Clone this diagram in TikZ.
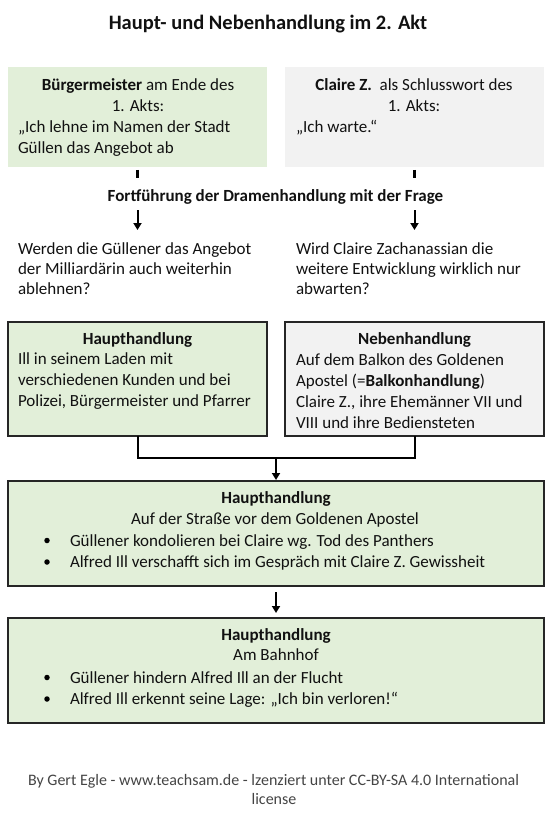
\documentclass[tikz,border=0pt]{standalone}
\usepackage{fontspec}
\setmainfont{Carlito}
\usetikzlibrary{arrows.meta}
\definecolor{boxgreen}{HTML}{E2EFD9}
\definecolor{boxgray}{HTML}{F2F2F2}
\definecolor{txt}{HTML}{111111}
\definecolor{foot}{HTML}{444444}
\tikzset{
  every node/.style={inner sep=0pt, outer sep=0pt, text=txt},
  body/.style={font=\fontsize{17}{21}\selectfont, align=left, anchor=base west},
  bodyc/.style={font=\fontsize{17}{21}\selectfont, anchor=base},
  boldc/.style={font=\fontsize{17}{21}\selectfont\bfseries, anchor=base},
  greenbox/.style={draw=none, fill=boxgreen, minimum width=259pt, minimum height=100pt},
  graybox/.style={draw=none, fill=boxgray, minimum width=259pt, minimum height=100pt},
  framebox/.style={draw=black!85, line width=1.4pt},
  tickline/.style={line width=2.6pt, black},
  arr/.style={line width=2pt, black, -{Triangle[length=7pt,width=8pt]}},
  conn/.style={line width=2pt, black},
  bul/.style={circle, fill=black, minimum size=5.5pt},
}
\begin{document}
\begin{tikzpicture}[x=1pt,y=-1pt]
\useasboundingbox (0,0) rectangle (550,821);
% title
\node[anchor=base, font=\fontsize{20.5}{24}\selectfont\bfseries] (title) at (268,30) {Haupt- und Nebenhandlung im 2. Akt};
% top boxes
\node[greenbox] (b1) at (137.5,117) {};
\node[graybox] (b2) at (414.5,117) {};
\node[bodyc] (b1l1) at (138,91) {\textbf{Bürgermeister} am Ende des};
\node[bodyc] (b1l2) at (138,112) {1. Akts:};
\node[body] (b1l3) at (18,154) {„Ich lehne im Namen der Stadt\\Güllen das Angebot ab};
\node[bodyc] (b2l1) at (414,91) {\textbf{Claire Z.}\ \ als Schlusswort des};
\node[bodyc] (b2l2) at (414,112) {1. Akts:};
\node[body] (b2l3) at (296,133) {„Ich warte.“};
% ticks
\coordinate (t1a) at (137.5,170); \coordinate (t1b) at (137.5,178);
\coordinate (t2a) at (414.5,170); \coordinate (t2b) at (414.5,178);
\draw[tickline] (t1a) -- (t1b);
\draw[tickline] (t2a) -- (t2b);
\node[boldc] (fort) at (275.5,201) {Fortführung der Dramenhandlung mit der Frage};
% arrows
\coordinate (a1s) at (137.5,210); \coordinate (a1e) at (137.5,230);
\coordinate (a2s) at (414.5,210); \coordinate (a2e) at (414.5,230);
\draw[arr] (a1s) -- (a1e);
\draw[arr] (a2s) -- (a2e);
% questions
\node[body, font=\fontsize{17}{20.2}\selectfont] (q1) at (18,294.5) {Werden die Güllener das Angebot\\der Milliardärin auch weiterhin\\ablehnen?};
\node[body, font=\fontsize{17}{20.2}\selectfont] (q2) at (296,294.5) {Wird Claire Zachanassian die\\weitere Entwicklung wirklich nur\\abwarten?};
% middle boxes
\node[greenbox, framebox, minimum height=114pt] (m1) at (137.5,379) {};
\node[graybox, framebox, minimum height=114pt] (m2) at (414.5,379) {};
\node[boldc] (m1h) at (137.5,344) {Haupthandlung};
\node[body] (m1t) at (18,406.5) {Ill in seinem Laden mit\\verschiedenen Kunden und bei\\Polizei, Bürgermeister und Pfarrer};
\node[boldc] (m2h) at (414.5,344) {Nebenhandlung};
\node[body] (m2t) at (296,428) {Auf dem Balkon des Goldenen\\Apostel (=\textbf{Balkonhandlung})\\Claire Z., ihre Ehemänner VII und\\VIII und ihre Bediensteten};
% join
\coordinate (j) at (276,458);
\draw[conn] (m1.south) |- (j);
\draw[conn] (m2.south) |- (j);
% box 3
\node[greenbox, framebox, minimum width=536pt, minimum height=105pt] (b3) at (276,533.5) {};
\draw[arr] (j) -- ([yshift=1pt]b3.north);
\node[boldc] (b3h) at (276,503) {Haupthandlung};
\node[bodyc] (b3s) at (275,524) {Auf der Straße vor dem Goldenen Apostel};
\node[bul] (b3b1) at (47,540.5) {};
\node[bul] (b3b2) at (47,562) {};
\node[body, font=\fontsize{17}{21.5}\selectfont] (b3t) at (70,567.5) {Güllener kondolieren bei Claire wg. Tod des Panthers\\Alfred Ill verschafft sich im Gespräch mit Claire Z. Gewissheit};
% box 4
\node[greenbox, framebox, minimum width=536pt, minimum height=105pt] (b4) at (276,670.5) {};
\draw[arr] ([yshift=-6pt]b3.south) -- ([yshift=5pt]b4.north);
\node[boldc] (b4h) at (276,640) {Haupthandlung};
\node[bodyc] (b4s) at (276,660.5) {Am Bahnhof};
\node[bul] (b4b1) at (47,677.5) {};
\node[bul] (b4b2) at (47,699) {};
\node[body, font=\fontsize{17}{21.5}\selectfont] (b4t) at (70,704.5) {Güllener hindern Alfred Ill an der Flucht\\Alfred Ill erkennt seine Lage: „Ich bin verloren!“};
% footer
\node[anchor=base, font=\fontsize{16}{20}\selectfont, text=foot] (f1) at (273.5,785) {By Gert Egle - www.teachsam.de - lzenziert unter CC-BY-SA 4.0 International};
\node[anchor=base, font=\fontsize{16}{20}\selectfont, text=foot] (f2) at (274,804) {license};
\end{tikzpicture}
\end{document}
